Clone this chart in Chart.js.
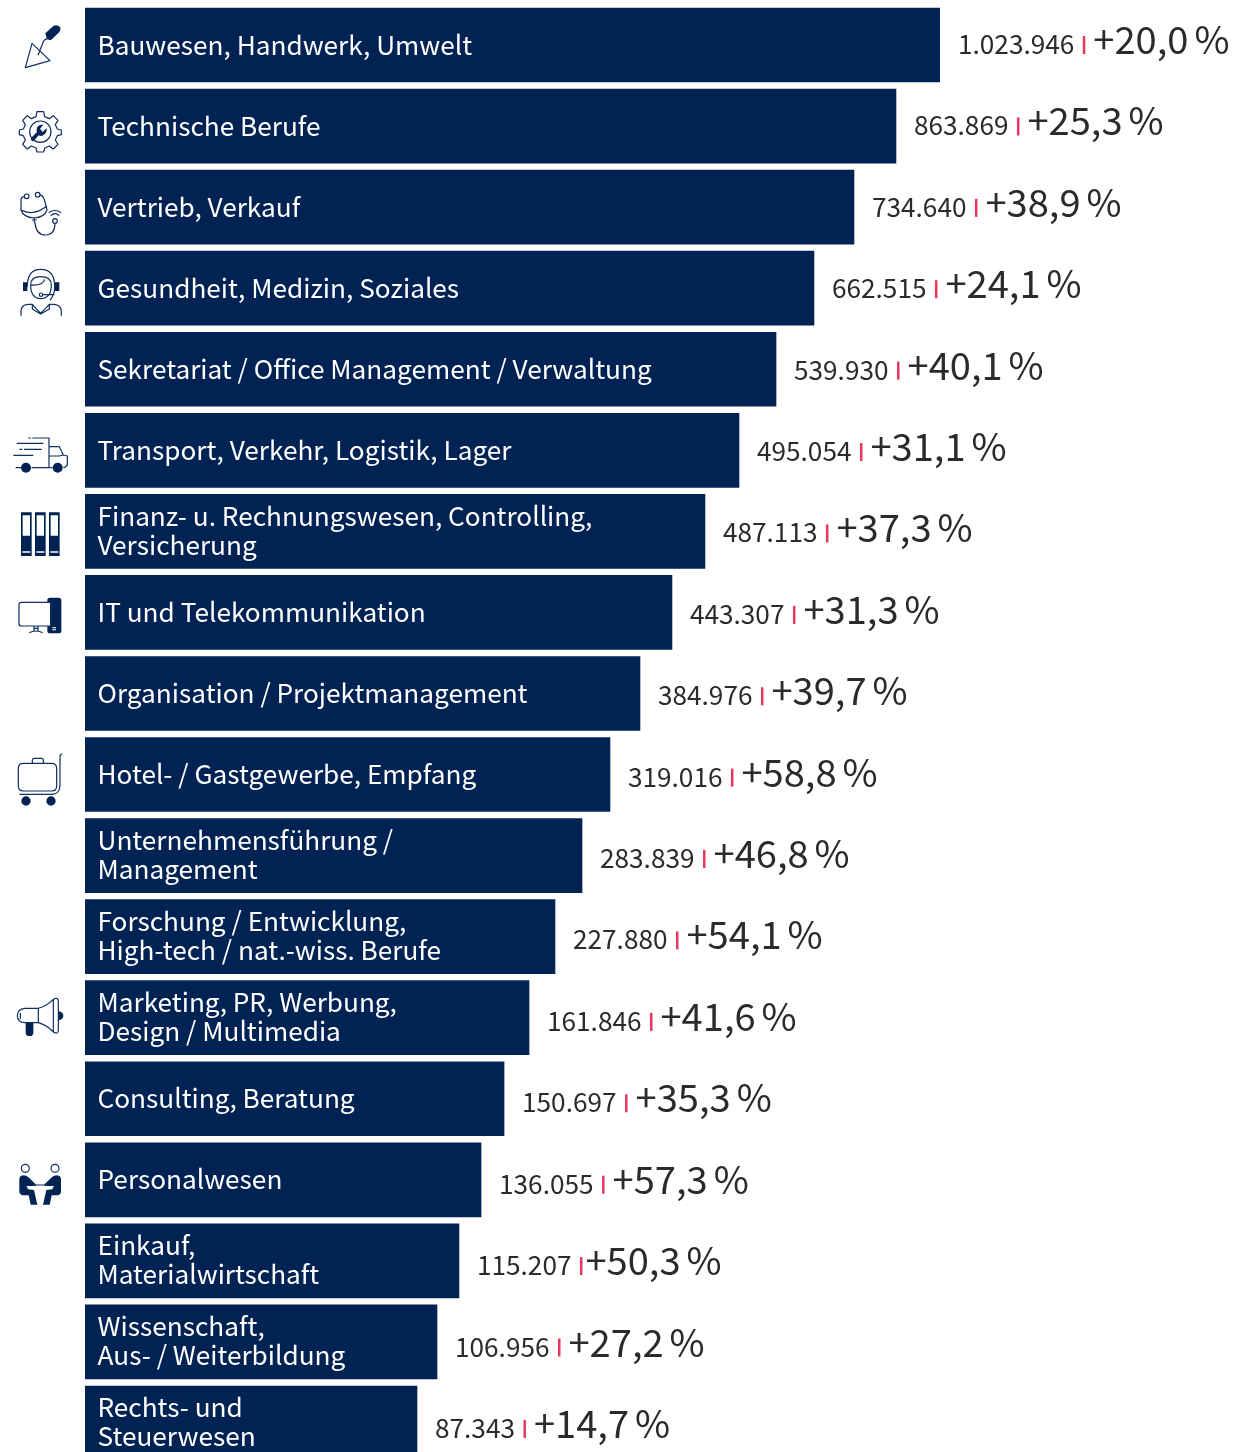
<!DOCTYPE html>
<html>
<head>
<meta charset="utf-8">
<style>
  html, body { margin: 0; padding: 0; background: #fff; overflow: hidden; }
  #wrap { width: 1239px; height: 1452px; overflow: hidden; }
</style>
<script src="https://cdn.jsdelivr.net/npm/chart.js@4"></script>
</head>
<body>
<div id="wrap"><canvas id="jobChart" width="1239" height="1470"></canvas></div>
<script>
const categories = [
  ['Bauwesen, Handwerk, Umwelt'],
  ['Technische Berufe'],
  ['Vertrieb, Verkauf'],
  ['Gesundheit, Medizin, Soziales'],
  ['Sekretariat / Office Management / Verwaltung'],
  ['Transport, Verkehr, Logistik, Lager'],
  ['Finanz- u. Rechnungswesen, Controlling,', 'Versicherung'],
  ['IT und Telekommunikation'],
  ['Organisation / Projektmanagement'],
  ['Hotel- / Gastgewerbe, Empfang'],
  ['Unternehmensführung /', 'Management'],
  ['Forschung / Entwicklung,', 'High-tech / nat.-wiss. Berufe'],
  ['Marketing, PR, Werbung,', 'Design / Multimedia'],
  ['Consulting, Beratung'],
  ['Personalwesen'],
  ['Einkauf,', 'Materialwirtschaft'],
  ['Wissenschaft,', 'Aus- / Weiterbildung'],
  ['Rechts- und', 'Steuerwesen']
];
const counts = ['1.023.946', '863.869', '734.640', '662.515', '539.930', '495.054', '487.113', '443.307', '384.976',
  '319.016', '283.839', '227.880', '161.846', '150.697', '136.055', '115.207', '106.956', '87.343'];
const changes = ['+20,0', '+25,3', '+38,9', '+24,1', '+40,1', '+31,1', '+37,3', '+31,3', '+39,7',
  '+58,8', '+46,8', '+54,1', '+41,6', '+35,3', '+57,3', '+50,3', '+27,2', '+14,7'];
// bars in the original are not proportional to the counts, so this is the drawn length, % of the longest bar
const drawnLength = [100, 94.85, 89.94, 85.26, 80.82, 76.49, 72.51, 68.65, 64.91,
  61.4, 58.13, 54.97, 51.93, 49.01, 46.32, 43.74, 41.17, 38.83];

const NAVY = '#002353';
const FONT = '"Noto Sans CJK SC", "Noto Sans", sans-serif';

// icons, [crop offset y, fill shapes, stroke shapes], coords are 3x pixels
const icons = [
  { y: 0, fill: 'M136 100 L160 78 Q172 72 180 82 Q184 90 176 98 L153 120 Q146 122 140 115 Z',
    line: 'M96 130 L150 182 L76 203 Z M114 166 L130 125 Q134 116 146 116' },
  { y: 0, fill: 'M93 414 L111 396 Q106 380 122 374 L130 374 L120 386 L128 396 L140 384 Q142 398 130 406 Q122 410 116 406 L100 424 Q92 424 93 414 Z',
    line: 'M111 335 L131 335 L134 350 L148 356 L160 347 L174 361 L166 374 L172 387 L184 390 L184 404 L172 407 L166 420 L174 433 L160 447 L148 438 L134 444 L131 456 L111 456 L108 444 L94 438 L82 447 L68 433 L76 420 L70 407 L58 404 L58 390 L70 387 L76 374 L68 361 L82 347 L94 356 L108 350 Z M153 395 A32 32 0 1 1 89 395 A32 32 0 1 1 153 395 Z' },
  { y: 0, fill: '',
    line: 'M87 589 A7 7 0 1 1 73 589 A7 7 0 1 1 87 589 Z M120 584 A7 7 0 1 1 106 584 A7 7 0 1 1 120 584 Z M73 589 Q62 592 63 602 L63 630 Q70 652 102 654 Q134 652 141 630 L133 598 Q130 588 120 584 M63 630 Q100 650 141 618 M103 654 L103 668 M96 660 L110 660 M105 668 Q108 705 136 705 Q165 705 165 670 M172 663 A7 7 0 1 1 158 663 A7 7 0 1 1 172 663 Z M152 647 Q165 635 178 647 M146 638 Q165 625 183 638' },
  { y: 250, fill: 'M69 97 L82 97 L82 123 L69 123 Z M165 97 L178 97 L178 123 L165 123 Z',
    line: 'M82 110 Q82 58 122 58 Q164 58 164 110 Q164 135 150 150 M92 105 Q92 80 122 80 Q154 80 154 105 Q154 145 122 146 Q92 145 92 105 Z M92 105 Q128 108 134 88 M128 134 A5 5 0 1 1 118 134 A5 5 0 1 1 128 134 Z M128 134 L163 134 M63 197 L63 182 Q64 165 84 163 L97 163 L122 190 L148 163 L162 163 Q183 165 184 182 L184 197 M97 163 L97 177 L122 192 L148 177 L148 163' },
  null,
  { y: 250, fill: 'M93 653 A15 15 0 1 1 63 653 A15 15 0 1 1 93 653 Z M188 653 A15 15 0 1 1 158 653 A15 15 0 1 1 188 653 Z',
    line: 'M85 564 L93 564 M97 564 L147 564 L147 652 M50 580 L130 580 M58 598 L67 598 M72 598 L125 598 M40 616 L100 616 M147 590 L178 590 L190 615 L202 618 L202 645 L195 652 L190 652 M147 618 L178 618 L190 615 M47 653 L65 653 M95 653 L158 653' },
  { y: 500, fill: 'M63 37 L95 37 L95 168 L63 168 Z M105 37 L137 37 L137 168 L105 168 Z M147 37 L179 37 L179 168 L147 168 Z',
    white: 'M68 46 L90 46 L90 107 L68 107 Z M110 46 L132 46 L132 107 L110 107 Z M152 46 L174 46 L174 107 L152 107 Z M67 154 L91 154 L91 158 L67 158 Z M109 154 L133 154 L133 158 L109 158 Z M151 154 L175 154 L175 158 L151 158 Z',
    line: '' },
  { y: 500, fill: 'M150 293 L176 293 Q184 293 184 301 L184 392 Q184 400 176 400 L150 400 Q142 400 142 392 L142 301 Q142 293 150 293 Z',
    white: 'M157 382 L168 382 L168 385 L157 385 Z M157 388 L168 388 L168 391 L157 391 Z M62 307 L150 307 L150 378 L62 378 Z',
    line: 'M64 307 L153 307 L153 378 L64 378 Q57 378 57 371 L57 314 Q57 307 64 307 Z M102 378 L102 393 M114 378 L114 393 M102 385 L114 385 M88 398 Q96 393 108 393 Q120 393 128 398' },
  null,
  { y: 500, fill: 'M92 903 A14 14 0 1 1 64 903 A14 14 0 1 1 92 903 Z M167 903 A14 14 0 1 1 139 903 A14 14 0 1 1 167 903 Z',
    line: 'M70 790 L155 790 Q170 790 170 805 L170 858 Q170 873 155 873 L70 873 Q55 873 55 858 L55 805 Q55 790 70 790 Z M97 790 L97 781 Q97 775 103 775 L124 775 Q130 775 130 781 L130 790 M187 762 Q180 762 180 770 L180 855 Q180 883 155 883 L58 883' },
  null,
  null,
  { y: 980, fill: 'M77 128 L100 128 L100 158 Q100 168 89 168 Q77 168 77 158 Z M175 93 Q190 96 190 107 Q190 118 175 121 Z',
    line: 'M75 85 Q52 87 52 107 Q52 127 75 128 L115 128 Q140 135 160 156 Q175 165 175 150 L175 65 Q175 50 160 58 Q140 78 115 85 Z M115 85 L115 128 M160 58 L160 156 M61 99 L61 118' },
  null,
  { y: 980, fill: 'M58 596 Q60 586 72 586 Q80 586 88 594 L110 616 L82 622 L84 628 L102 630 L112 674 L92 674 L86 646 L68 646 Q58 644 58 634 Z M183 596 Q181 586 169 586 Q161 586 153 594 L131 616 L159 622 L157 628 L139 630 L129 674 L149 674 L155 646 L173 646 Q183 644 183 634 Z',
    white: 'M80 618 L161 618 L161 622 L80 622 Z',
    line: 'M88 565 A12 12 0 1 1 64 565 A12 12 0 1 1 88 565 Z M177 565 A12 12 0 1 1 153 565 A12 12 0 1 1 177 565 Z M97 615 L144 615' },
  null,
  null,
  null
];

const iconPlugin = {
  id: 'icons',
  afterDraw(chart) {
    const ctx = chart.ctx;
    ctx.save();
    ctx.scale(1 / 3, 1 / 3);
    ctx.lineWidth = 3.6;
    ctx.lineJoin = 'round';
    icons.forEach(icon => {
      if (!icon) return;
      ctx.save();
      ctx.translate(0, icon.y * 3);
      if (icon.fill) { ctx.fillStyle = NAVY; ctx.fill(new Path2D(icon.fill)); }
      if (icon.white) { ctx.fillStyle = '#fff'; ctx.fill(new Path2D(icon.white)); }
      if (icon.line) { ctx.strokeStyle = '#0f2f5c'; ctx.stroke(new Path2D(icon.line)); }
      ctx.restore();
    });
    ctx.restore();
  }
};

const labelPlugin = {
  id: 'rowLabels',
  afterDatasetsDraw(chart) {
    const ctx = chart.ctx;
    const bars = chart.getDatasetMeta(0).data;
    ctx.save();
    ctx.textBaseline = 'alphabetic';
    bars.forEach((bar, i) => {
      // category text inside the bar
      const lines = categories[i];
      ctx.fillStyle = '#fff';
      ctx.font = '26.2px ' + FONT;
      const firstBase = lines.length > 1 ? bar.y + 9 - 14.5 : bar.y + 9.5;
      lines.forEach((line, n) => ctx.fillText(line, bar.base + 12.5, firstBase + n * 29));

      // count | change %, these drift a little lower than the bars going down
      const base = bar.y + 9 + i * 0.35;
      let x = bar.x + 18;
      ctx.fillStyle = '#2b2b2b';
      ctx.font = '26.2px ' + FONT;
      ctx.fillText(counts[i], x, base);
      x += ctx.measureText(counts[i]).width + 8.5;
      ctx.fillStyle = '#e8375a';
      ctx.fillRect(x, base - 18, 2.5, 18);
      x += i === 15 ? 5.5 : 10.5;
      ctx.fillStyle = '#2b2b2b';
      ctx.font = '38.1px ' + FONT;
      ctx.fillText(changes[i], x, base);
      x += ctx.measureText(changes[i]).width + 6;
      ctx.fillText('%', x, base);
    });
    ctx.restore();
  }
};

new Chart(document.getElementById('jobChart'), {
  type: 'bar',
  data: {
    labels: categories,
    datasets: [{
      data: drawnLength,
      backgroundColor: NAVY,
      barThickness: 74,
      borderWidth: 0
    }]
  },
  options: {
    indexAxis: 'y',
    responsive: false,
    animation: false,
    layout: { padding: { left: 85, right: 299, top: 4.5, bottom: 6.5 } },
    plugins: { legend: { display: false }, tooltip: { enabled: false } },
    scales: {
      x: { display: false, min: 0, max: 100 },
      y: { display: false }
    }
  },
  plugins: [labelPlugin, iconPlugin]
});
</script>
</body>
</html>
